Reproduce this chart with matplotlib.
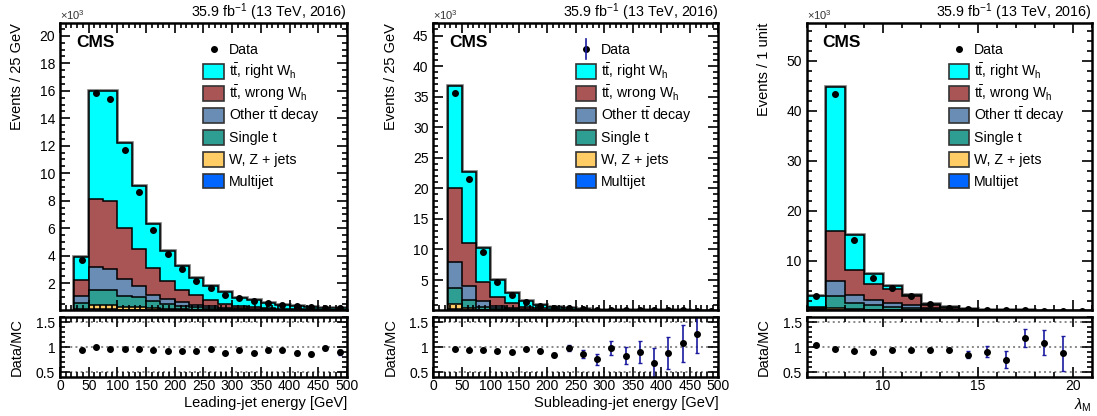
import numpy as np
import matplotlib
matplotlib.use('Agg')
import matplotlib.pyplot as plt
from matplotlib.ticker import MultipleLocator
from matplotlib.patches import Rectangle

plt.rcParams['font.family'] = ['Liberation Sans', 'DejaVu Sans']
plt.rcParams['mathtext.fontset'] = 'custom'
plt.rcParams['mathtext.rm'] = 'Liberation Sans'
plt.rcParams['mathtext.it'] = 'Liberation Sans:italic'
plt.rcParams['mathtext.bf'] = 'Liberation Sans:bold'

# bin edges
edges_lead = np.arange(25, 501, 25)
edges_sub = np.arange(25, 501, 25)
edges_lam = np.arange(6, 22, 1)

# --- leading-jet energy (events x 10^3) ---
lead_multijet = [0.05, 0.10, 0.10, 0.08, 0.06, 0.05, 0.04, 0.03, 0.02, 0.02, 0.01, 0.01, 0.01, 0.005, 0.004, 0.003, 0.002, 0.002, 0.002]
lead_wz = [0.10, 0.31, 0.30, 0.22, 0.19, 0.15, 0.11, 0.07, 0.06, 0.04, 0.03, 0.02, 0.01, 0.01, 0.006, 0.007, 0.006, 0.004, 0.003]
lead_single = [0.41, 1.11, 1.07, 0.79, 0.71, 0.47, 0.35, 0.25, 0.17, 0.12, 0.09, 0.06, 0.05, 0.035, 0.03, 0.02, 0.012, 0.01, 0.008]
lead_other = [0.48, 1.65, 1.53, 1.21, 0.80, 0.49, 0.35, 0.25, 0.20, 0.14, 0.09, 0.07, 0.05, 0.04, 0.03, 0.02, 0.02, 0.014, 0.012]
lead_wrong = [1.16, 4.93, 5.0, 3.7, 2.74, 1.94, 1.32, 0.92, 0.71, 0.43, 0.28, 0.20, 0.15, 0.11, 0.08, 0.07, 0.05, 0.04, 0.035]
lead_right = [1.73, 7.9, 8.0, 6.2, 4.55, 3.2, 2.2, 1.74, 1.21, 1.05, 0.83, 0.59, 0.48, 0.38, 0.30, 0.24, 0.20, 0.16, 0.13]
lead_data = [3.72, 15.87, 15.43, 11.68, 8.6, 5.9, 4.1, 3.0, 2.15, 1.68, 1.15, 0.92, 0.70, 0.55, 0.43, 0.33, 0.27, 0.22, 0.17]
lead_ratio = [0.95, 1.0, 0.97, 0.96, 0.96, 0.94, 0.93, 0.92, 0.92, 0.97, 0.89, 0.94, 0.89, 0.94, 0.94, 0.88, 0.87, 0.98, 0.90]
lead_ratio_err = [0.005, 0.004, 0.004, 0.005, 0.006, 0.007, 0.008, 0.01, 0.012, 0.014, 0.017, 0.02, 0.023, 0.027, 0.031, 0.036, 0.04, 0.045, 0.05]

# --- subleading-jet energy ---
sub_multijet = [0.25, 0.10, 0.04, 0.02, 0.01, 0.01, 0.005, 0.003, 0.002, 0.001, 0.001, 0.001, 0, 0, 0, 0, 0, 0, 0]
sub_wz = [0.85, 0.35, 0.11, 0.06, 0.04, 0.02, 0.01, 0.007, 0.004, 0.003, 0.002, 0.001, 0.001, 0.001, 0.001, 0.0005, 0.0003, 0.0002, 0.0002]
sub_single = [2.65, 1.35, 0.5, 0.27, 0.15, 0.08, 0.045, 0.025, 0.014, 0.009, 0.006, 0.004, 0.003, 0.002, 0.001, 0.001, 0.0007, 0.0006, 0.0003]
sub_other = [4.25, 2.2, 1.0, 0.43, 0.2, 0.11, 0.06, 0.035, 0.025, 0.017, 0.011, 0.007, 0.005, 0.003, 0.002, 0.0015, 0.001, 0.0007, 0.0005]
sub_wrong = [12.1, 7.0, 2.95, 1.42, 0.87, 0.38, 0.23, 0.13, 0.085, 0.05, 0.03, 0.022, 0.016, 0.011, 0.008, 0.006, 0.004, 0.0035, 0.002]
sub_right = [16.6, 11.7, 5.6, 2.87, 1.59, 0.9, 0.5, 0.35, 0.22, 0.14, 0.1, 0.065, 0.045, 0.033, 0.024, 0.017, 0.013, 0.009, 0.007]
sub_data = [35.6, 21.6, 9.6, 4.7, 2.6, 1.45, 0.8, 0.47, 0.35, 0.19, 0.11, 0.10, 0.06, 0.045, 0.025, 0.022, 0.02, 0.018, 0.01]
sub_ratio = [0.97, 0.95, 0.94, 0.93, 0.90, 0.96, 0.93, 0.85, 0.98, 0.86, 0.76, 0.98, 0.83, 0.91, 0.69, 0.89, 1.08, 1.27]
sub_ratio_err = [0.005, 0.006, 0.008, 0.01, 0.015, 0.02, 0.025, 0.04, 0.06, 0.08, 0.11, 0.14, 0.17, 0.22, 0.3, 0.32, 0.37, 0.38]

# --- lambda_M ---
lam_multijet = [0.03, 0.15, 0.10, 0.06, 0.04, 0.03, 0.02, 0.01, 0.005, 0.003, 0.002, 0.001, 0.001, 0, 0]
lam_wz = [0.07, 0.40, 0.25, 0.14, 0.11, 0.07, 0.03, 0.02, 0.01, 0.007, 0.003, 0.002, 0.001, 0.001, 0.001]
lam_single = [0.30, 2.35, 1.15, 1.0, 0.65, 0.5, 0.25, 0.12, 0.055, 0.03, 0.02, 0.01, 0.007, 0.005, 0.003]
lam_other = [0.20, 3.1, 1.6, 0.9, 0.7, 0.5, 0.2, 0.1, 0.05, 0.03, 0.015, 0.009, 0.006, 0.004, 0.003]
lam_wrong = [0.20, 9.9, 5.0, 3.2, 2.8, 1.95, 0.7, 0.35, 0.18, 0.10, 0.06, 0.033, 0.023, 0.013, 0.009]
lam_right = [2.2, 28.8, 7.1, 2.0, 0.6, 0.15, 0.15, 0.08, 0.05, 0.03, 0.02, 0.013, 0.008, 0.005, 0.004]
lam_data = [2.95, 43.3, 14.1, 6.6, 4.65, 3.05, 1.3, 0.65, 0.3, 0.18, 0.09, 0.08, 0.05, 0.025, 0.02]
lam_ratio = [1.04, 0.97, 0.92, 0.91, 0.95, 0.95, 0.95, 0.95, 0.85, 0.91, 0.75, 1.18, 1.09, 0.88]
lam_ratio_err = [0.01, 0.005, 0.008, 0.01, 0.012, 0.015, 0.02, 0.03, 0.07, 0.11, 0.17, 0.18, 0.25, 0.35]

labels = ['Multijet', 'W, Z + jets', 'Single t', r'Other t$\bar{\mathrm{t}}$ decay',
          r't$\bar{\mathrm{t}}$, wrong W$_\mathrm{h}$', r't$\bar{\mathrm{t}}$, right W$_\mathrm{h}$']
colors = ['#0066FF', '#FFCC66', '#2E9E92', '#6A8DB5', '#AA5555', '#00FFFF']

fig = plt.figure(figsize=(10.97, 4.16), dpi=100)

panels = [
    dict(edges=edges_lead, comps=[lead_multijet, lead_wz, lead_single, lead_other, lead_wrong, lead_right],
         data=lead_data, ratio=lead_ratio, rerr=lead_ratio_err, x0=0.0547, x1=0.3163,
         xlim=(0, 500), ylim=(0.05, 20.95), ymaj=2, ymin=0.5, xmaj=50, xmin=10,
         ylabel='Events / 25 GeV', xlabel='Leading-jet energy [GeV]', errleg=False),
    dict(edges=edges_sub, comps=[sub_multijet, sub_wz, sub_single, sub_other, sub_wrong, sub_right],
         data=sub_data, ratio=sub_ratio, rerr=sub_ratio_err, x0=0.395, x1=0.6548,
         xlim=(0, 500), ylim=(0.1, 47.1), ymaj=5, ymin=1, xmaj=50, xmin=10,
         ylabel='Events / 25 GeV', xlabel='Subleading-jet energy [GeV]', errleg=True),
    dict(edges=edges_lam, comps=[lam_multijet, lam_wz, lam_single, lam_other, lam_wrong, lam_right],
         data=lam_data, ratio=lam_ratio, rerr=lam_ratio_err, x0=0.7354, x1=0.9952,
         xlim=(6, 21), ylim=(0.15, 57.6), ymaj=10, ymin=2, xmaj=5, xmin=1,
         ylabel='Events / 1 unit', xlabel=r'$\lambda_\mathrm{M}$', errleg=False),
]

for p in panels:
    w = p['x1'] - p['x0']
    ax = fig.add_axes([p['x0'], 0.2548, w, 0.9454 - 0.2548])
    axr = fig.add_axes([p['x0'], 0.0945, w, 0.2387 - 0.0945])

    edges = p['edges']
    centers = 0.5 * (edges[:-1] + edges[1:])
    cum = np.cumsum(np.array(p['comps'], dtype=float), axis=0)

    ax.stairs(cum[-1], edges, baseline=0, fill=False, edgecolor='#777777', linewidth=2.6)
    for i in reversed(range(len(cum))):
        ax.stairs(cum[i], edges, baseline=0, fill=True, facecolor=colors[i],
                  edgecolor='black', linewidth=1.1)

    data = np.array(p['data'])
    if p['errleg']:
        ax.errorbar(centers, data, yerr=np.sqrt(data * 1000) / 1000, fmt='o', ms=4,
                    color='black', ecolor='#1a1aa0', elinewidth=1.2)
    else:
        ax.plot(centers, data, 'o', ms=4, color='black')

    n = len(p['ratio'])
    for yv in (0.5, 1.0, 1.5):
        axr.axhline(yv, color='#888888', ls=':', lw=1.4, zorder=0)
    axr.errorbar(centers[:n], p['ratio'], yerr=p['rerr'], fmt='o', ms=4, color='black',
                 ecolor='#1a1aa0', elinewidth=1.2, capsize=1.5)

    for a in (ax, axr):
        a.set_xlim(*p['xlim'])
        a.xaxis.set_major_locator(MultipleLocator(p['xmaj']))
        a.xaxis.set_minor_locator(MultipleLocator(p['xmin']))
        a.tick_params(which='both', direction='in', top=True, right=True, labelsize=10, width=1.2)
        a.tick_params(which='major', length=7)
        a.tick_params(which='minor', length=3.5)
        for s in a.spines.values():
            s.set_linewidth(1.8)
    ax.set_ylim(*p['ylim'])
    ax.yaxis.set_major_locator(MultipleLocator(p['ymaj']))
    ax.yaxis.set_minor_locator(MultipleLocator(p['ymin']))
    ax.tick_params(labelbottom=False)
    axr.set_ylim(0.41, 1.61)
    axr.set_yticks([0.5, 1, 1.5])
    axr.set_yticklabels(['0.5', '1', '1.5'])
    axr.yaxis.set_minor_locator(MultipleLocator(0.1))
    axr.tick_params(axis='x', pad=2)

    ax.set_ylabel(p['ylabel'], fontsize=10.5, loc='top')
    ax.yaxis.set_label_coords(-0.125, 1.0)
    axr.set_ylabel('Data/MC', fontsize=10.5)
    axr.yaxis.set_label_coords(-0.125, 0.5)
    axr.set_xlabel(p['xlabel'], fontsize=10.5, loc='right', labelpad=2)

    ax.text(1.0, 1.0216, r'35.9 fb$^{-1}$ (13 TeV, 2016)', transform=ax.transAxes,
            ha='right', va='baseline', fontsize=10.3)
    ax.text(0.0, 1.003, r'$\times$10$^3$', transform=ax.transAxes, ha='left', va='bottom',
            fontsize=8, color='#333333')
    ax.text(0.056, 0.957, 'CMS', transform=ax.transAxes, ha='left', va='top',
            fontsize=12.5, fontweight='bold')

    # legend drawn row by row so every row has the same height
    lx, bw, bh, dy, y0 = 0.50, 0.07, 0.052, 0.0765, 0.908
    ax.plot([lx + bw / 2], [y0], 'o', ms=4, color='black', transform=ax.transAxes, clip_on=False)
    if p['errleg']:
        ax.plot([lx + bw / 2, lx + bw / 2], [y0 - 0.035, y0 + 0.035], color='#1a1aa0', lw=1.2,
                transform=ax.transAxes)
    ax.text(lx + bw + 0.018, y0 - 0.0174, 'Data', transform=ax.transAxes, ha='left',
            va='baseline', fontsize=10.2)
    for j, i in enumerate(reversed(range(6))):
        yc = y0 - (j + 1) * dy
        ax.add_patch(Rectangle((lx, yc - bh / 2), bw, bh, transform=ax.transAxes,
                               facecolor=colors[i], edgecolor='#333333', linewidth=1.2))
        ax.text(lx + bw + 0.018, yc - 0.0174, labels[i], transform=ax.transAxes, ha='left',
                va='baseline', fontsize=10.2)

fig.savefig('out.png', dpi=100)
